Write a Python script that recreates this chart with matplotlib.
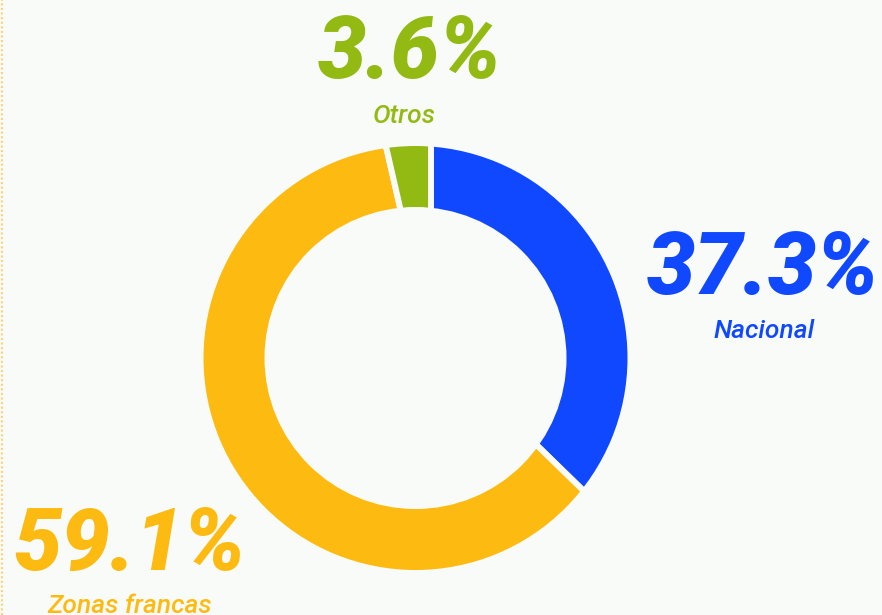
import matplotlib
matplotlib.use("Agg")
import matplotlib.pyplot as plt
from matplotlib.patches import Wedge, Circle

# data
labels = ["Nacional", "Zonas francas", "Otros"]
values = [37.3, 59.1, 3.6]
colors = ["#1048ff", "#fdbb12", "#93ba12"]

bg = "#f9fbf9"
W, H = 882, 615

fig = plt.figure(figsize=(W / 100, H / 100), dpi=100, facecolor=bg)
ax = fig.add_axes([0, 0, 1, 1])
ax.set_facecolor(bg)

# the slices radiate from a point a little off the ring's centre
ring_c = (415.5, H - 358)
slice_c = (431, H - 342)

ax.pie(values, colors=colors, center=slice_c, radius=320,
       startangle=90, counterclock=False,
       wedgeprops=dict(edgecolor=bg, linewidth=4.3))

# mask everything outside the ring and the hole
ax.add_patch(Wedge(ring_c, 1200, 0, 360, width=1200 - 212, fc=bg, ec="none", zorder=3))
ax.add_patch(Circle(ring_c, 151, fc=bg, ec="none", zorder=3))

ax.set_xlim(0, W)
ax.set_ylim(0, H)
ax.set_aspect("equal")
ax.axis("off")

# dotted left border
ax.plot([2, 2], [0, H], color="#ffd27a", lw=1.5, ls=(0, (1, 1.2)), zorder=4)

big = dict(family=["Roboto", "DejaVu Sans"], weight="black", style="italic",
           fontsize=62, ha="center", va="baseline", zorder=5)
small = dict(family=["Roboto", "DejaVu Sans"], weight="medium", style="italic",
             fontsize=19, ha="center", va="baseline", zorder=5)

ax.text(410, H - 78, "3.6%", color=colors[2], **big)
ax.text(404, H - 123, "Otros", color=colors[2], **small)
ax.text(763, H - 294, "37.3%", color=colors[0], **big)
ax.text(764, H - 338, "Nacional", color=colors[0], **small)
ax.text(129, H - 570, "59.1%", color=colors[1], **big)
ax.text(130, H - 613, "Zonas francas", color=colors[1], **small)

fig.savefig("out.png", dpi=100, facecolor=bg)
